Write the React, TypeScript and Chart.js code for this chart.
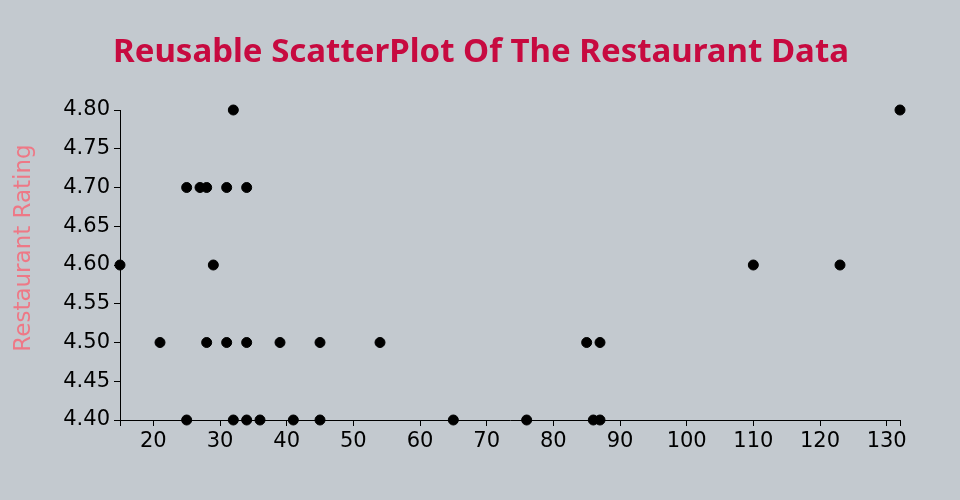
import React, { useEffect, useRef } from "react";
import { Chart, registerables } from "chart.js";

Chart.register(...registerables);

const TITLE = "Reusable ScatterPlot Of The Restaurant Data";
const Y_LABEL = "Restaurant Rating";

// price (x) and rating (y) of each restaurant
const prices = [15, 21, 25, 25, 27, 28, 28, 29, 31, 31, 32, 32, 34, 34, 34, 36, 39, 41, 45, 45, 54, 65, 76, 85, 86, 87, 87, 110, 123, 132];
const ratings = [4.6, 4.5, 4.7, 4.4, 4.7, 4.7, 4.5, 4.6, 4.7, 4.5, 4.8, 4.4, 4.7, 4.5, 4.4, 4.4, 4.5, 4.4, 4.5, 4.4, 4.5, 4.4, 4.4, 4.5, 4.4, 4.5, 4.4, 4.6, 4.6, 4.8];

const X_MIN = 15;
const X_MAX = 132;
const xTickValues = [20, 30, 40, 50, 60, 70, 80, 90, 100, 110, 120, 130];
const Y_MIN = 4.4;
const Y_MAX = 4.8;
const yTickValues = [4.4, 4.45, 4.5, 4.55, 4.6, 4.65, 4.7, 4.75, 4.8];

const BG = "#c3c9cf";

export default function App() {
  const ref = useRef<HTMLCanvasElement | null>(null);

  useEffect(() => {
    document.body.style.margin = "0";
    const canvas = ref.current!;
    const overlay = {
      id: "overlay",
      beforeDraw(chart: any) {
        const c = chart.ctx;
        c.save();
        c.fillStyle = BG;
        c.fillRect(0, 0, chart.width, chart.height);
        c.restore();
      },
      afterDraw(chart: any) {
        const c = chart.ctx;
        c.save();
        c.fillStyle = "#c70a40";
        c.font = "bold 33px 'Noto Sans'";
        c.textAlign = "center";
        c.textBaseline = "alphabetic";
        c.fillText(TITLE, 481, 62);
        c.translate(24, 248);
        c.rotate(-Math.PI / 2);
        c.textBaseline = "middle";
        c.fillStyle = "#ee7886";
        c.font = "23px 'DejaVu Sans'";
        c.fillText(Y_LABEL, 0, 0);
        c.restore();
      },
    };

    const chart = new Chart(canvas, {
      type: "scatter",
      data: {
        datasets: [
          {
            data: prices.map((p, i) => ({ x: p, y: ratings[i] })),
            backgroundColor: "#000",
            borderColor: "#000",
            pointRadius: 5,
            pointHoverRadius: 5,
            clip: false,
          } as any,
        ],
      },
      options: {
        responsive: false,
        animation: false,
        layout: { padding: { left: 0, top: 110, right: 60, bottom: 0 } },
        plugins: { legend: { display: false }, tooltip: { enabled: false } },
        scales: {
          x: {
            type: "linear",
            min: X_MIN,
            max: X_MAX,
            afterBuildTicks: (s: any) => {
              s.ticks = [X_MIN, ...xTickValues, X_MAX].map((v) => ({ value: v }));
            },
            afterFit: (s: any) => {
              s.height = 80;
            },
            ticks: {
              autoSkip: false,
              maxRotation: 0,
              color: "#000",
              padding: 3,
              font: { family: "'DejaVu Sans'", size: 21 },
              callback: (v: any) => (xTickValues.includes(v) ? String(v) : ""),
            },
            grid: {
              drawOnChartArea: false,
              drawTicks: true,
              tickLength: 6,
              color: "#000",
              lineWidth: 1,
            },
            border: { display: true, color: "#000", width: 1 },
          },
          y: {
            type: "linear",
            min: Y_MIN,
            max: Y_MAX,
            afterBuildTicks: (s: any) => {
              s.ticks = yTickValues.map((v) => ({ value: v }));
            },
            afterFit: (s: any) => {
              s.width = 120;
            },
            ticks: {
              autoSkip: false,
              color: "#000",
              padding: 4,
              font: { family: "'DejaVu Sans'", size: 21 },
              callback: (v: any) => Number(v).toFixed(2),
            },
            grid: {
              drawOnChartArea: false,
              drawTicks: true,
              tickLength: 6,
              color: "#000",
              lineWidth: 1,
            },
            border: { display: true, color: "#000", width: 1 },
          },
        },
      },
      plugins: [overlay],
    });
    return () => chart.destroy();
  }, []);

  return <canvas ref={ref} width={960} height={500} style={{ display: "block" }} />;
}
